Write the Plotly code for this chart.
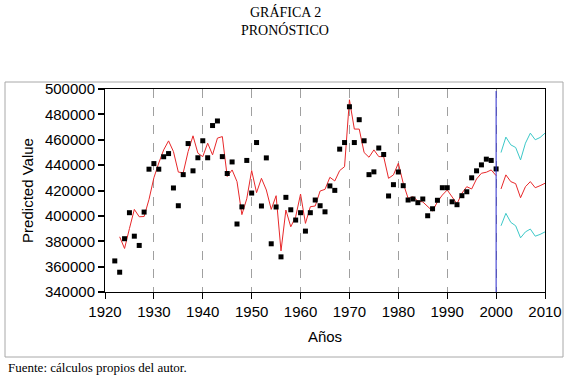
import plotly.graph_objects as go

years_obs = list(range(1922, 2001))
observed = [364500, 355600, 382000, 402500, 384000, 376700, 403000, 436800, 441200, 436800,
            446600, 449100, 422000, 408000, 432500, 457000, 435500, 445800, 459200, 445800,
            471200, 474800, 446700, 433400, 442500, 393600, 407100, 443700, 418000, 457800,
            407800, 445700, 378000, 407000, 367700, 414600, 404800, 396700, 402500, 388000,
            402500, 412500, 408000, 403200, 423600, 420100, 452600, 457800, 486000, 457800,
            475800, 459200, 432500, 434700, 453500, 448400, 415700, 424600, 434600, 423800,
            412500, 413300, 410400, 413300, 400100, 405600, 412300, 422200, 422200, 411100,
            408800, 415900, 419000, 430000, 435500, 440200, 444700, 443700, 437000]

years_fit = list(range(1923, 2001))
fitted = [383500, 374300, 390000, 405100, 399300, 399500, 413000, 430000, 441700, 452000,
          459100, 450700, 434500, 434000, 450700, 463100, 449400, 446700, 457300, 448100,
          461300, 462500, 431000, 436200, 427000, 401000, 413500, 435700, 418300, 429600,
          420400, 405100, 415900, 372400, 404600, 391400, 399300, 417200, 394100, 407200,
          407800, 419600, 420900, 430400, 427500, 435700, 438800, 491500, 468400, 468400,
          449900, 446200, 452000, 446700, 446700, 429600, 432300, 441500, 425700, 413800,
          415100, 411700, 411000, 407200, 403800, 411100, 416400, 420400, 415100, 409500,
          417800, 423000, 421200, 429100, 433600, 434400, 436200, 431700]

years_fc = list(range(2001, 2011))
forecast = [421200, 432300, 427000, 425400, 414300, 423000, 427000, 422200, 423800, 425700]
upper = [449900, 462100, 456000, 453900, 444100, 457300, 465200, 460000, 461800, 465200]
lower = [392200, 402000, 394900, 392200, 382700, 387400, 389600, 384000, 385400, 387400]

x_ticks = list(range(1920, 2011, 10))
y_ticks = list(range(340000, 500001, 20000))
y_tick_labels = [str(v) for v in y_ticks]

L, R, T, B = 105, 545, 89, 292
W, H = R - L, B - T

fig = go.Figure()
fig.add_trace(go.Scatter(x=years_fit, y=fitted, mode="lines",
                         line=dict(color="#e8282a", width=1), showlegend=False))
fig.add_trace(go.Scatter(x=years_obs, y=observed, mode="markers",
                         marker=dict(symbol="square", size=5, color="black"), showlegend=False))
fig.add_trace(go.Scatter(x=years_fc, y=forecast, mode="lines",
                         line=dict(color="#e8282a", width=1), showlegend=False))
fig.add_trace(go.Scatter(x=years_fc, y=upper, mode="lines",
                         line=dict(color="#3cc8c8", width=1), showlegend=False))
fig.add_trace(go.Scatter(x=years_fc, y=lower, mode="lines",
                         line=dict(color="#3cc8c8", width=1), showlegend=False))

fig.update_layout(
    width=570, height=380,
    margin=dict(l=L, r=570 - R, t=T, b=380 - B, autoexpand=False),
    paper_bgcolor="white", plot_bgcolor="white",
    font=dict(family="Liberation Sans, Arial, sans-serif", color="black"),
    xaxis=dict(range=[1920, 2010], tickvals=x_ticks, showgrid=True,
               gridcolor="#a0a0a0", griddash="dash", gridwidth=1,
               showline=True, linecolor="black", linewidth=1, mirror=True,
               ticks="outside", ticklen=6, tickcolor="black",
               tickfont=dict(size=15), zeroline=False, automargin=False,
               title=dict(text="Años", font=dict(size=15), standoff=12)),
    yaxis=dict(range=[340000, 500000], tickvals=y_ticks, ticktext=y_tick_labels,
               showgrid=False,
               showline=True, linecolor="black", linewidth=1, mirror=True,
               ticks="outside", ticklen=6, tickcolor="black", tickwidth=2,
               tickfont=dict(size=15), zeroline=False, automargin=False,
               title=dict(text="Predicted Value", font=dict(size=15), standoff=7)),
)

fig.add_shape(type="line", xref="x", yref="paper", x0=2000, x1=2000, y0=0, y1=0.99,
              line=dict(color="#2a2acc", width=1))

# outer gray frame
fig.add_shape(type="rect", xref="paper", yref="paper",
              x0=(5 - L) / W, x1=(563 - L) / W,
              y0=(B - 357) / H, y1=(B - 82) / H,
              line=dict(color="#a8a8a8", width=1), layer="below")

serif = "Liberation Serif, Times New Roman, serif"
fig.add_annotation(xref="paper", yref="paper", x=(285 - L) / W, y=(B - 12) / H,
                   text="GRÁFICA 2", showarrow=False, xanchor="center", yanchor="middle",
                   font=dict(family=serif, size=14))
fig.add_annotation(xref="paper", yref="paper", x=(285 - L) / W, y=(B - 30) / H,
                   text="PRONÓSTICO", showarrow=False, xanchor="center", yanchor="middle",
                   font=dict(family=serif, size=14))
fig.add_annotation(xref="paper", yref="paper", x=(6 - L) / W, y=(B - 367) / H,
                   text="Fuente: cálculos propios del autor.", showarrow=False,
                   xanchor="left", yanchor="middle",
                   font=dict(family=serif, size=13))

fig.write_html("out.html", config={"displayModeBar": False},
               post_script="document.body.style.margin='0';document.body.style.padding='0';")
